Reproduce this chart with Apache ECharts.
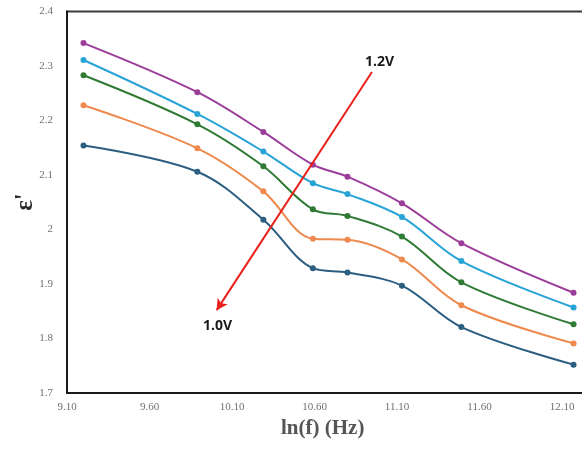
<!DOCTYPE html>
<html>
<head>
<meta charset="utf-8">
<script src="https://cdn.jsdelivr.net/npm/echarts@6/dist/echarts.min.js"></script>
<style>html,body{margin:0;padding:0;background:#fff}#c{width:582px;height:453px}</style>
</head>
<body>
<div id="c"></div>
<script>
// ln(f) values (x axis)
const lnF = [9.20, 9.89, 10.29, 10.59, 10.80, 11.13, 11.49, 12.17];
// dielectric constant series, from 1.0V (bottom) to 1.2V (top)
const s1 = [2.154, 2.106, 2.018, 1.929, 1.921, 1.897, 1.821, 1.752];
const s2 = [2.228, 2.149, 2.070, 1.983, 1.981, 1.945, 1.861, 1.791];
const s3 = [2.283, 2.193, 2.116, 2.037, 2.025, 1.987, 1.903, 1.826];
const s4 = [2.311, 2.212, 2.143, 2.085, 2.065, 2.023, 1.942, 1.857];
const s5 = [2.342, 2.252, 2.179, 2.119, 2.097, 2.048, 1.975, 1.884];
const seriesValues = [s1, s2, s3, s4, s5];
const seriesColors = ['#2b5e80', '#ee8a4d', '#2f7a34', '#27a3d6', '#9c3d9a'];
// arrow annotation (data coords): from 1.2V end to 1.0V end
const arrowStart = [10.948, 2.289];
const arrowEnd = [10.007, 1.852];

const chart = echarts.init(document.getElementById('c'), null, {renderer: 'canvas'});
const series = seriesValues.map((vals, i) => ({
  type: 'line',
  data: lnF.map((x, j) => [x, vals[j]]),
  smooth: 0.35,
  symbol: 'circle',
  symbolSize: 6,
  lineStyle: {width: 2, color: seriesColors[i]},
  itemStyle: {color: seriesColors[i]},
  z: 3
}));
series.push({
  type: 'line',
  data: [],
  markLine: {
    silent: true,
    symbol: ['none', 'arrow'],
    symbolSize: [9, 11],
    label: {show: false},
    lineStyle: {color: '#e8201c', width: 2, type: 'solid'},
    data: [[{coord: arrowStart}, {coord: arrowEnd}]]
  },
  z: 5
});

chart.setOption({
  animation: false,
  backgroundColor: '#fff',
  grid: {left: 67, top: 11.5, width: 577.5, height: 381.5, show: true, borderColor: '#3a3a3a', borderWidth: 2,
         containLabel: false, outerBoundsMode: 'none'},
  xAxis: {
    type: 'value', min: 9.10, max: 12.60, interval: 0.5,
    axisLine: {show: true, lineStyle: {color: '#1a1a1a', width: 2}},
    axisTick: {show: false},
    splitLine: {show: false},
    axisLabel: {formatter: v => v.toFixed(2), color: '#707070', fontFamily: 'Liberation Serif', fontSize: 11, margin: 9}
  },
  yAxis: {
    type: 'value', min: 1.7, max: 2.4, interval: 0.1,
    axisLine: {show: true, lineStyle: {color: '#1a1a1a', width: 2}},
    axisTick: {show: false},
    splitLine: {show: false},
    axisLabel: {formatter: v => String(+v.toFixed(1)), color: '#707070', fontFamily: 'Liberation Serif', fontSize: 11, margin: 14}
  },
  graphic: [
    {type: 'text', x: 26, y: 202, rotation: Math.PI / 2,
     style: {text: "ε'", font: 'bold 25px "Liberation Serif"', fill: '#2a2a2a', align: 'center', verticalAlign: 'middle'}},
    {type: 'text', left: 281, top: 418, style: {text: 'ln(f) (Hz)', font: 'bold 21px "Liberation Serif"', fill: '#555'}},
    {type: 'text', left: 365, top: 55, style: {text: '1.2V', font: 'bold 14px "Open Sans"', fill: '#1a1a1a'}},
    {type: 'text', left: 203, top: 319, style: {text: '1.0V', font: 'bold 14px "Open Sans"', fill: '#1a1a1a'}}
  ],
  series: series
});
</script>
</body>
</html>
